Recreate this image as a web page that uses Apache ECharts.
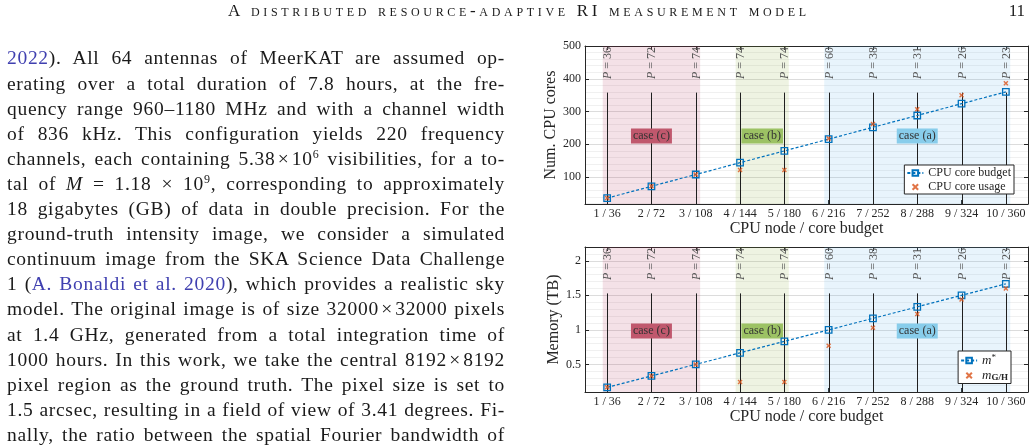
<!DOCTYPE html>
<html>
<head>
<meta charset="utf-8">
<script src="https://cdn.jsdelivr.net/npm/echarts@6/dist/echarts.min.js"></script>
<style>
  html, body { margin: 0; padding: 0; background: #fff; }
  #page { position: relative; width: 1035px; height: 445px; overflow: hidden;
          font-family: 'Liberation Serif', serif; color: #1a1a1a; }
  #chart { position: absolute; left: 0; top: 0; width: 1035px; height: 445px; }
  #head { position: absolute; top: 1px; left: 228px; white-space: nowrap;
          font-size: 17px; line-height: 20px; font-variant: small-caps; }
  #pg { position: absolute; top: 1px; right: 10px; font-size: 17px; line-height: 20px; }
  .ln { position: absolute; left: 7px; width: 498px; font-size: 19.5px; line-height: 25px;
        letter-spacing: 0.7px; text-align: justify; text-align-last: justify; }
  .ln a { color: #4040b0; text-decoration: none; }
  .ln sup { font-size: 12px; line-height: 0; vertical-align: 7px; }
</style>
</head>
<body>
<div id="page">
  <div id="chart"></div>
  <div id="head"><span id="headtxt">A distributed resource-adaptive RI measurement model</span></div>
  <div id="pg">11</div>
  <div id="body"></div>
</div>
<script>
// column text, one entry per printed line
const textLines = [
  '<a>2022</a>).  All 64 antennas of MeerKAT are assumed op-',
  'erating over a total duration of 7.8 hours, at the fre-',
  'quency range 960–1180 MHz and with a channel width',
  'of 836 kHz.  This configuration yields 220 frequency',
  'channels, each containing 5.38&#8202;×&#8202;10<sup>6</sup> visibilities, for a to-',
  'tal of <i>M</i> = 1.18 × 10<sup>9</sup>, corresponding to approximately',
  '18 gigabytes (GB) of data in double precision. For the',
  'ground-truth intensity image, we consider a simulated',
  'continuum image from the SKA Science Data Challenge',
  '1 (<a>A. Bonaldi et al. 2020</a>), which provides a realistic sky',
  'model. The original image is of size 32000&#8202;×&#8202;32000 pixels',
  'at 1.4 GHz, generated from a total integration time of',
  '1000 hours. In this work, we take the central 8192&#8202;×&#8202;8192',
  'pixel region as the ground truth. The pixel size is set to',
  '1.5 arcsec, resulting in a field of view of 3.41 degrees. Fi-',
  'nally, the ratio between the spatial Fourier bandwidth of'
];

const bodyEl = document.getElementById('body');
textLines.forEach(function (html, i) {
  const d = document.createElement('div');
  d.className = 'ln';
  d.style.top = (45.4 + 25.1 * i) + 'px';
  d.innerHTML = html;
  bodyEl.appendChild(d);
  // tighten a line that would wrap
  let ls = 0.7;
  while (d.offsetHeight > 30 && ls > -1) {
    ls -= 0.1;
    d.style.letterSpacing = ls + 'px';
  }
});

// stretch running head to its printed width
const headTxt = document.getElementById('headtxt');
const headW = headTxt.getBoundingClientRect().width;
const nChars = headTxt.textContent.length;
document.getElementById('head').style.letterSpacing = ((578 - headW) / (nChars - 1)) + 'px';

const F = "'Liberation Serif', 'DejaVu Serif', serif";
const INK = '#262626';

// chart data
const nodes = [1, 2, 3, 4, 5, 6, 7, 8, 9, 10];
const xLabels = ['1 / 36', '2 / 72', '3 / 108', '4 / 144', '5 / 180',
                 '6 / 216', '7 / 252', '8 / 288', '9 / 324', '10 / 360'];
const coreBudget = [36, 72, 108, 144, 180, 216, 252, 288, 324, 360];
const coreUsage = [36, 72, 108, 122, 122, 218, 262, 307, 350, 386];
const memBudget = [0.167, 0.333, 0.5, 0.667, 0.833, 1.0, 1.167, 1.333, 1.5, 1.667];
const memUsage = [0.167, 0.333, 0.5, 0.245, 0.245, 0.77, 1.03, 1.23, 1.44, 1.6];
const facets = [36, 72, 74, 74, 74, 60, 38, 31, 26, 23];
const coreTicks = [100, 200, 300, 400, 500];
const memTicks = [0.5, 1, 1.5, 2];
const caseNames = ['case (c)', 'case (b)', 'case (a)'];
const caseNodes = [[1, 3], [4, 5], [6, 10]];

const bandFill = ['rgba(182,55,95,0.15)', 'rgba(142,175,62,0.15)', 'rgba(102,182,235,0.15)'];
const caseFill = ['#c0586d', '#9cc264', '#88cdeb'];
const BLUE = '#0072bd';
const ORANGE = '#d95319';
const CROSS = 'path://M0,2L2,0L5,3L8,0L10,2L7,5L10,8L8,10L5,7L2,10L0,8L3,5Z';

const panels = [
  { top: 46, height: 158, min: 18, max: 500, ticks: coreTicks, minorStep: 20,
    name: 'Num. CPU cores', stemFrac: 0.705, caseFrac: 0.43,
    legendTop: 165, legendRight: 21,
    lines: [['CPU core budget', coreBudget], ['CPU core usage', coreUsage]] },
  { top: 247, height: 145, min: 0.1, max: 2.2, ticks: memTicks, minorStep: 0.1,
    name: 'Memory (TB)', stemFrac: 0.68, caseFrac: 0.42,
    legendTop: 351, legendRight: 24,
    lines: [['m*', memBudget], ['mG/H', memUsage]] }
];

function minorValues(p) {
  const out = [];
  for (let k = Math.ceil(p.min / p.minorStep); k * p.minorStep <= p.max + 1e-9; k++) {
    const v = Math.round(k * p.minorStep * 1000) / 1000;
    if (p.ticks.indexOf(v) < 0) out.push(v);
  }
  return out;
}

function bandItem(p) {
  return function (params, api) {
    const a = api.coord([api.value(0) - 0.1, p.max]);
    const b = api.coord([api.value(1) + 0.1, p.min]);
    return { type: 'rect', shape: { x: a[0], y: a[1], width: b[0] - a[0], height: b[1] - a[1] },
             style: { fill: bandFill[params.dataIndex] } };
  };
}

function stemItem(p) {
  return function (params, api) {
    const n = api.value(0);
    const base = api.coord([n, p.min]);
    const top = api.coord([n, p.min + p.stemFrac * (p.max - p.min)]);
    const head = api.coord([n, p.max]);
    const x = Math.round(base[0]) + 0.5;
    return {
      type: 'group',
      children: [
        { type: 'line', shape: { x1: x, y1: base[1], x2: x, y2: top[1] },
          style: { stroke: '#1f1f1f', lineWidth: 1 } },
        { type: 'text', x: x, y: head[1] + 1, rotation: Math.PI / 2,
          style: { text: '{i|P} = ' + api.value(1), align: 'right', verticalAlign: 'middle',
                   fill: '#555', fontSize: 12, fontFamily: F,
                   rich: { i: { fontStyle: 'italic', fontSize: 12, fontFamily: F, fill: '#555' } } } }
      ]
    };
  };
}

function caseItem(p) {
  return function (params, api) {
    const c = api.coord([(api.value(0) + api.value(1)) / 2, p.min + p.caseFrac * (p.max - p.min)]);
    return { type: 'text', x: c[0], y: c[1],
             style: { text: caseNames[params.dataIndex], align: 'center', verticalAlign: 'middle',
                      backgroundColor: caseFill[params.dataIndex], padding: [2, 2, 1, 2],
                      fill: '#333', fontSize: 12, fontFamily: F } };
  };
}

const grid = [], xAxis = [], yAxis = [], series = [], legend = [];

panels.forEach(function (p, g) {
  grid.push({ left: 585, right: 7, top: p.top, height: p.height });

  xAxis.push({
    type: 'value', gridIndex: g, min: 0.5, max: 10.5, position: 'bottom',
    name: 'CPU node / core budget', nameLocation: 'middle', nameGap: 15,
    nameTextStyle: { fontFamily: F, fontSize: 16, color: INK },
    axisLine: { show: true, lineStyle: { color: INK } },
    axisTick: { show: true, inside: true, length: 4, customValues: nodes, lineStyle: { color: INK } },
    axisLabel: { customValues: nodes, formatter: v => xLabels[Math.round(v) - 1],
                 fontFamily: F, fontSize: 12, color: INK, margin: 4 },
    splitLine: { show: false }
  });
  xAxis.push({
    type: 'value', gridIndex: g, min: 0.5, max: 10.5, position: 'top',
    axisLine: { show: true, lineStyle: { color: INK } },
    axisTick: { show: true, inside: true, length: 4, customValues: nodes, lineStyle: { color: INK } },
    axisLabel: { show: false }, splitLine: { show: false }
  });

  yAxis.push({
    type: 'value', gridIndex: g, min: p.min, max: p.max, position: 'left',
    name: p.name, nameLocation: 'middle', nameGap: 21,
    nameTextStyle: { fontFamily: F, fontSize: 16, color: INK },
    axisLine: { show: true, lineStyle: { color: INK } },
    axisTick: { show: true, inside: true, length: 4, customValues: p.ticks, lineStyle: { color: INK } },
    axisLabel: { customValues: p.ticks, fontFamily: F, fontSize: 12, color: INK, margin: 4 },
    splitLine: { show: true, lineStyle: { color: '#dcdcdc' } }
  });
  yAxis.push({
    type: 'value', gridIndex: g, min: p.min, max: p.max, position: 'right',
    axisLine: { show: true, lineStyle: { color: INK } },
    axisTick: { show: true, inside: true, length: 4, customValues: p.ticks, lineStyle: { color: INK } },
    axisLabel: { show: false }, splitLine: { show: false }
  });
  yAxis.push({
    type: 'value', gridIndex: g, min: p.min, max: p.max, position: 'right',
    axisLine: { show: false },
    axisTick: { show: false, customValues: minorValues(p) },
    axisLabel: { show: false },
    splitLine: { show: true, lineStyle: { color: '#f0f0f0' } }
  });

  const xi = 2 * g, yi = 3 * g;
  series.push({ type: 'custom', xAxisIndex: xi, yAxisIndex: yi, z: 1, silent: true,
                data: caseNodes, renderItem: bandItem(p) });
  series.push({ type: 'custom', xAxisIndex: xi, yAxisIndex: yi, z: 2, silent: true, clip: false,
                data: nodes.map((n, i) => [n, facets[i]]), renderItem: stemItem(p) });
  series.push({ type: 'custom', xAxisIndex: xi, yAxisIndex: yi, z: 3, silent: true,
                data: caseNodes, renderItem: caseItem(p) });
  series.push({
    name: p.lines[0][0], type: 'line', xAxisIndex: xi, yAxisIndex: yi, z: 4,
    data: nodes.map((n, i) => [n, p.lines[0][1][i]]),
    symbol: 'rect', symbolSize: 6.5,
    itemStyle: { color: 'rgba(255,255,255,0)', borderColor: BLUE, borderWidth: 1.3 },
    lineStyle: { color: BLUE, width: 1.2, type: [3, 2] }
  });
  series.push({
    name: p.lines[1][0], type: 'scatter', xAxisIndex: xi, yAxisIndex: yi, z: 5,
    data: nodes.map((n, i) => [n, p.lines[1][1][i]]),
    symbol: CROSS, symbolSize: 5, itemStyle: { color: ORANGE }
  });

  const lg = {
    orient: 'vertical', right: p.legendRight, top: p.legendTop,
    data: p.lines.map(s => s[0]),
    backgroundColor: '#fff', borderColor: INK, borderWidth: 1, borderRadius: 0,
    padding: [2, 3, 1, 2], itemGap: 2, itemWidth: 16, itemHeight: 7,
    textStyle: { fontFamily: F, fontSize: 12, color: INK }
  };
  if (g === 1) {
    lg.formatter = name => name === 'm*' ? '{m|m}{s|*}' : '{m|m}{b|G/H}';
    lg.textStyle.rich = {
      m: { fontStyle: 'italic', fontSize: 13, fontFamily: F, color: INK },
      s: { fontSize: 9, fontFamily: F, color: INK, padding: [0, 0, 6, 0] },
      b: { fontSize: 9, fontWeight: 'bold', fontFamily: F, color: INK, padding: [5, 0, 0, 0] }
    };
  }
  legend.push(lg);
});

const chart = echarts.init(document.getElementById('chart'), null, { renderer: 'canvas' });
chart.setOption({
  animation: false,
  backgroundColor: 'transparent',
  grid: grid, xAxis: xAxis, yAxis: yAxis, legend: legend, series: series
});
</script>
</body>
</html>
